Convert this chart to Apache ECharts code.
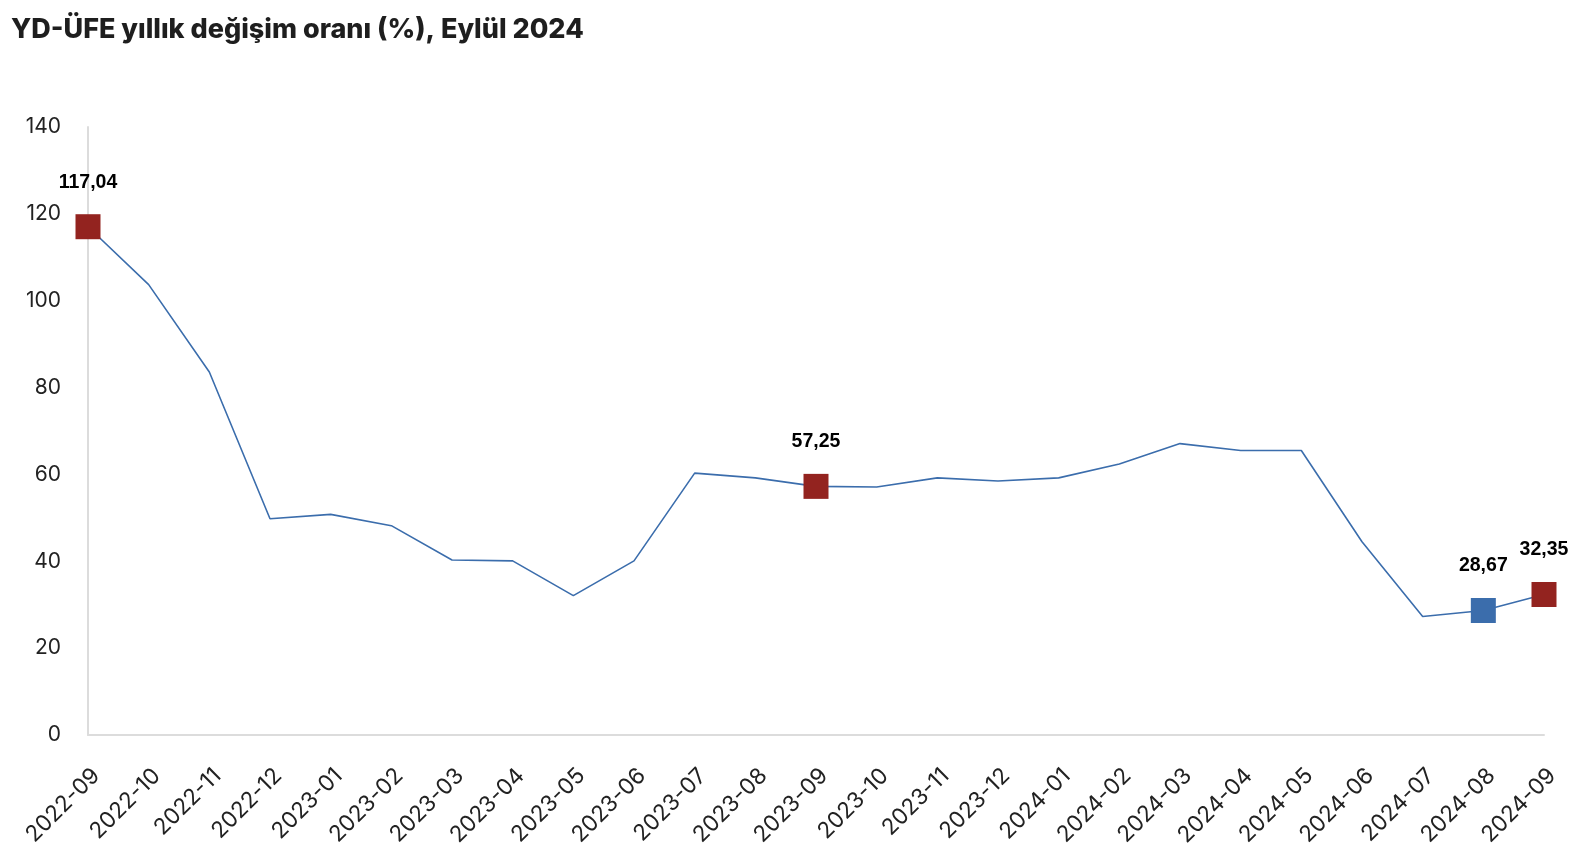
<!DOCTYPE html>
<html><head><meta charset="utf-8">
<script src="https://cdn.jsdelivr.net/npm/echarts@6/dist/echarts.min.js"></script>
<style>html,body{margin:0;padding:0;background:#fff}#c{width:1586px;height:854px}</style>
</head><body><div id="c"></div>
<script>
const title = 'YD-ÜFE yıllık değişim oranı (%), Eylül 2024';
const categories = ['2022-09','2022-10','2022-11','2022-12','2023-01','2023-02','2023-03','2023-04','2023-05','2023-06','2023-07','2023-08','2023-09','2023-10','2023-11','2023-12','2024-01','2024-02','2024-03','2024-04','2024-05','2024-06','2024-07','2024-08','2024-09'];
const values = [117.04,103.7,83.6,49.8,50.8,48.2,40.3,40.1,32.1,40.1,60.3,59.2,57.25,57.1,59.2,58.5,59.2,62.4,67.1,65.5,65.5,44.5,27.3,28.67,32.35];
const redPoints = ['2022-09','2023-09','2024-09'];
const bluePoints = ['2024-08'];
const yTicks = [0,20,40,60,80,100,120,140];

const RED = '#93231f', BLUE = '#3b6dac';
const markerData = (names, color) => names.map(n => {
  const i = categories.indexOf(n);
  return {value: [n, values[i]], itemStyle: {color, opacity: 1}};
});
const chart = echarts.init(document.getElementById('c'), null, {renderer: 'canvas'});
chart.setOption({
  animation: false,
  title: {text: title, left: 6, top: 11, textStyle: {fontFamily: 'Inter', fontWeight: 800, fontSize: 27, color: '#1e1e1e'}},
  grid: {left: 88, right: 42, top: 127, bottom: 119},
  xAxis: {
    type: 'category', data: categories, boundaryGap: false,
    axisLine: {lineStyle: {color: '#dcdcdc', width: 2}},
    axisTick: {show: false},
    axisLabel: {rotate: 45, fontFamily: 'Inter', fontSize: 22.5, color: '#222', margin: 29, interval: 0, verticalAlign: 'top'}
  },
  yAxis: {
    type: 'value', min: yTicks[0], max: yTicks[yTicks.length-1], interval: 20,
    axisLine: {show: true, lineStyle: {color: '#dcdcdc', width: 2}},
    axisTick: {show: false}, splitLine: {show: false},
    axisLabel: {fontFamily: 'Inter', fontSize: 21, color: '#222', margin: 27}
  },
  series: [
    {type: 'line', data: values, showSymbol: false, lineStyle: {color: BLUE, width: 1.6}, z: 2},
    {type: 'scatter', data: markerData(redPoints, RED).concat(markerData(bluePoints, BLUE)), symbol: 'rect', symbolSize: 25, z: 3,
     label: {show: true, position: 'top', distance: 22, formatter: p => p.value[1].toFixed(2).replace('.', ','),
       fontFamily: 'Liberation Sans', fontWeight: 'bold', fontSize: 19.5, color: '#000'}}
  ]
});
</script></body></html>
